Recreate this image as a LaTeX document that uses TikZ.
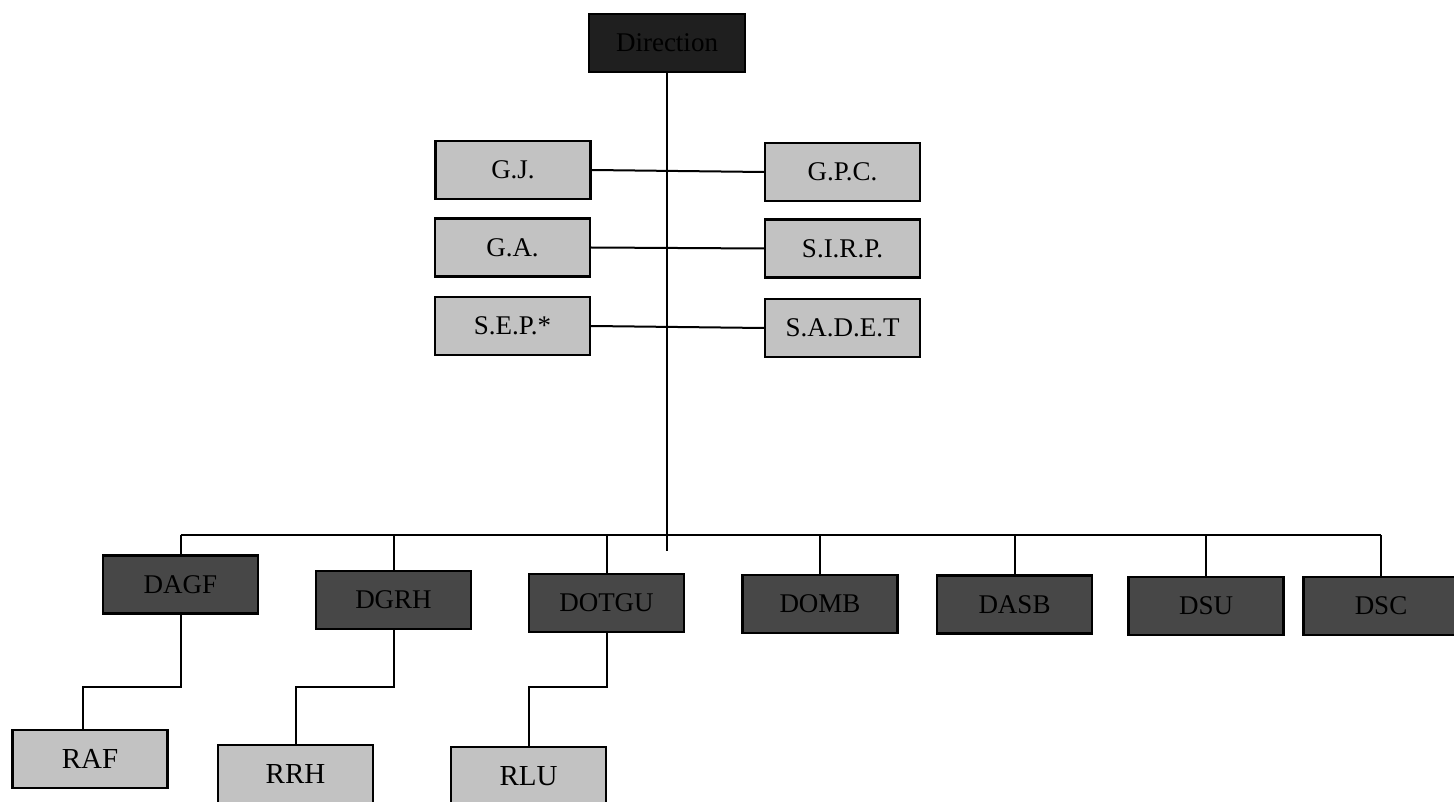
\documentclass[tikz,border=0pt]{standalone}
\usepackage{fontspec}
\setmainfont{Liberation Serif}
\begin{document}
\begin{tikzpicture}[x=1pt,y=-1pt,
  box/.style={draw=black,line width=2.2pt,rectangle,inner sep=0pt,
    minimum width=155pt,minimum height=58pt},
  lightbox/.style={box,fill=black!24,font=\fontsize{27}{29}\selectfont},
  darkbox/.style={box,fill=black!72,text=black,font=\fontsize{27}{29}\selectfont},
  topbox/.style={box,fill=black!88,text=black,font=\fontsize{27}{29}\selectfont},
  lowbox/.style={box,fill=black!24,font=\fontsize{29}{31}\selectfont},
  link/.style={draw=black,line width=2pt}]
\useasboundingbox (0,0) rectangle (1454,802);
% top
\node[topbox,minimum width=156pt] (top) at (667,43) {Direction};
% staff boxes
\node[lightbox] (GJ) at (513,170) {G.J.};
\node[lightbox] (GPC) at (842.5,172) {G.P.C.};
\node[lightbox] (GA) at (512.5,247.5) {G.A.};
\node[lightbox] (SIRP) at (842.5,248.5) {S.I.R.P.};
\node[lightbox] (SEP) at (512.5,326) {S.E.P.*};
\node[lightbox] (SADET) at (842.5,328) {S.A.D.E.T};
% directorates
\node[darkbox] (DAGF) at (180.5,584.5) {DAGF};
\node[darkbox] (DGRH) at (393.5,600) {DGRH};
\node[darkbox] (DOTGU) at (606.5,603) {DOTGU};
\node[darkbox] (DOMB) at (820,604) {DOMB};
\node[darkbox] (DASB) at (1014.5,604.5) {DASB};
\node[darkbox] (DSU) at (1206,606) {DSU};
\node[darkbox] (DSC) at (1381,606) {DSC};
% regional
\node[lowbox] (RAF) at (90,759) {RAF};
\node[lowbox] (RRH) at (295.5,774) {RRH};
\node[lowbox] (RLU) at (528.5,776) {RLU};
% coordinates
\coordinate (bus) at (0,535);
\coordinate (mainend) at (0,551);
\coordinate (joint) at (0,687);
% main vertical
\draw[link] (top.south) -- (top.south |- mainend);
% staff links
\draw[link] (GJ.east) -- (GPC.west);
\draw[link] (GA.east) -- (SIRP.west);
\draw[link] (SEP.east) -- (SADET.west);
% bus
\draw[link] (DAGF.north |- bus) -- (DSC.north |- bus);
\foreach \n in {DAGF,DGRH,DOTGU,DOMB,DASB,DSU,DSC}
  \draw[link] (\n.north |- bus) -- (\n.north);
% regional links
\draw[link] (DAGF.south) -- (DAGF.south |- joint) -| ([xshift=-7pt]RAF.north);
\draw[link] (DGRH.south) -- (DGRH.south |- joint) -| (RRH.north);
\draw[link] (DOTGU.south) -- (DOTGU.south |- joint) -| (RLU.north);
\end{tikzpicture}
\end{document}
